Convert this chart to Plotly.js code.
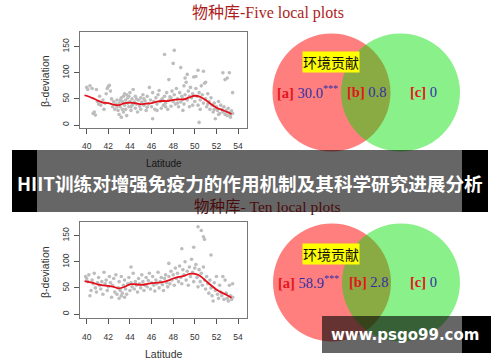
<!DOCTYPE html>
<html>
<head>
<meta charset="utf-8">
<script src="https://cdn.plot.ly/plotly-3.0.1.min.js"></script>
<style>html,body{margin:0;padding:0;background:#fff;}#chart{width:500px;height:362px;}</style>
</head>
<body>
<div id="chart"></div>
<script>
// ---------- data ----------
const latTicks = [40, 42, 44, 46, 48, 50, 52, 54];
const devTicks = [0, 50, 100, 150];

// Five local plots: scatter points (latitude, beta-deviation)
const fiveLat = [40.0,40.1,40.3,40.5,40.6,40.7,40.8,40.9,41.0,41.1,41.2,41.3,41.5,41.6,41.7,41.8,41.9,42.0,42.1,42.2,42.3,42.4,42.5,42.6,42.7,42.8,42.9,43.0,43.0,43.1,43.2,43.2,43.3,43.4,43.4,43.5,43.5,43.6,43.6,43.7,43.7,43.8,43.8,43.9,44.0,44.0,44.1,44.2,44.2,44.3,44.4,44.5,44.5,44.6,44.7,44.8,44.9,45.0,45.0,45.1,45.2,45.3,45.4,45.5,45.6,45.7,45.8,45.9,46.0,46.1,46.1,46.2,46.3,46.4,46.5,46.6,46.7,46.8,46.9,47.0,47.1,47.2,47.2,47.3,47.4,47.5,47.6,47.6,47.7,47.8,47.9,48.0,48.0,48.1,48.1,48.2,48.3,48.4,48.5,48.6,48.7,48.7,48.8,48.9,49.0,49.0,49.1,49.1,49.2,49.3,49.3,49.4,49.5,49.6,49.7,49.8,49.9,50.0,50.1,50.1,50.2,50.3,50.3,50.4,50.4,50.5,50.6,50.7,50.8,50.8,50.9,51.0,51.0,51.1,51.2,51.3,51.4,51.5,51.6,51.7,51.8,51.9,52.0,52.1,52.2,52.3,52.4,52.5,52.6,52.6,52.7,52.8,52.8,52.9,53.0,53.0,53.1,53.2,53.2,53.3,53.4,53.5,53.5,43.1,43.9,44.1,44.6,42.8,43.3,44.3,45.3,45.6,46.5,46.9,47.3,47.8,48.4,48.9,49.5,49.8,50.5,51.2,51.8,52.2,52.9,53.3];
const fiveDev = [72,68,75,70,22,25,19,68,45,40,55,38,48,30,42,60,70,74,76,65,50,35,45,30,40,48,28,20,42,35,52,15,45,25,55,38,60,48,30,58,18,42,52,35,45,62,28,50,38,68,44,32,55,40,25,48,36,52,30,44,58,38,46,28,55,40,72,48,35,12,62,45,30,52,40,58,66,45,32,50,38,135,55,42,62,30,87,48,54,36,65,118,45,143,58,40,70,50,35,62,110,44,55,28,75,40,90,58,82,97,48,65,35,72,52,60,92,45,93,70,55,105,38,5,62,48,75,58,103,42,80,82,50,35,60,45,30,52,38,25,42,12,35,28,45,22,38,30,100,25,35,87,20,28,90,18,32,100,24,20,27,62,22,48,55,35,50,35,30,40,50,34,28,48,35,52,42,50,55,38,30,40,30,20,25,15];
// Five local plots: smoothed trend
const fiveTrendLat = [39.8,40.5,41.0,41.5,42.0,42.5,43.0,43.5,44.0,44.5,45.0,45.5,46.0,46.5,47.0,47.5,48.0,48.5,49.0,49.5,50.0,50.5,51.0,51.5,52.0,52.5,53.0,53.4];
const fiveTrendDev = [57,52,47,43,42,39,38,42,43,42,40,41,42,45,46,46,48,49,49,53,56,54,48,40,33,29,25,21];

// Ten local plots: scatter points
const tenLat = [39.9,40.0,40.1,40.2,40.3,40.4,40.5,40.6,40.7,40.8,40.9,41.0,41.1,41.2,41.3,41.4,41.5,41.6,41.7,41.8,41.9,42.0,42.1,42.2,42.3,42.4,42.5,42.6,42.7,42.8,42.9,43.0,43.0,43.1,43.2,43.2,43.3,43.4,43.5,43.5,43.6,43.7,43.8,43.9,44.0,44.1,44.1,44.2,44.3,44.4,44.5,44.6,44.7,44.8,44.9,45.0,45.1,45.2,45.3,45.4,45.5,45.6,45.7,45.8,45.9,46.0,46.1,46.2,46.3,46.4,46.5,46.6,46.7,46.8,46.9,47.0,47.1,47.2,47.3,47.4,47.5,47.6,47.6,47.7,47.8,47.9,48.0,48.1,48.2,48.3,48.4,48.5,48.6,48.7,48.8,48.8,48.9,49.0,49.1,49.2,49.3,49.4,49.5,49.6,49.7,49.8,49.9,49.9,50.0,50.1,50.2,50.3,50.3,50.4,50.5,50.6,50.6,50.7,50.8,50.8,50.9,50.9,51.0,51.1,51.2,51.3,51.4,51.5,51.5,51.6,51.7,51.8,51.9,52.0,52.1,52.2,52.3,52.4,52.5,52.6,52.7,52.8,52.9,53.0,53.1,53.2,53.3,53.4,53.5,53.5];
const tenDev = [72,68,62,75,35,45,65,58,78,50,42,60,70,55,48,62,38,80,58,65,45,52,72,60,32,55,68,42,75,38,50,30,62,45,35,72,40,55,32,65,48,38,58,70,45,90,60,52,78,48,62,55,42,68,58,50,75,62,45,55,70,52,64,78,48,60,72,55,44,65,58,80,50,62,70,56,45,68,75,60,52,97,72,58,82,65,75,55,88,68,78,62,92,70,125,58,85,75,100,65,82,55,90,72,105,80,128,62,88,95,70,167,52,85,62,160,78,55,148,90,143,65,48,72,58,40,65,113,50,35,25,60,45,72,38,30,55,42,35,72,28,65,40,30,25,55,35,28,58,32];
// Ten local plots: smoothed trend
const tenTrendLat = [39.8,40.5,41.0,41.5,42.0,42.5,43.0,43.5,44.0,44.5,45.0,45.5,46.0,46.5,47.0,47.5,48.0,48.5,49.0,49.5,50.0,50.5,51.0,51.5,52.0,52.5,53.0,53.4];
const tenTrendDev = [63,60,57,55,54,52,49,52,57,57,56,57,59,60,61,64,68,71,73,77,77,73,64,55,47,41,36,31];

// Texts
const titleFive = '物种库-Five local plots';
const titleTen = '物种库- Ten local plots';
const xLabel = 'Latitude';
const yLabel = 'β-deviation';
const envLabel = '环境贡献';
const vennKeys = ['[a]', '[b]', '[c]'];
const vennFive = ['30.0***', '0.8', '0'];
const vennTen = ['58.9***', '2.8', '0'];
const bannerText = 'HIIT训练对增强免疫力的作用机制及其科学研究进展分析';
const watermarkText = 'www.psgo99.com';

// ---------- helpers ----------
const W = 500, H = 362;
const px = x => x / W;
const py = y => 1 - y / H;
const sans = 'Liberation Sans, Arial, sans-serif';
const serif = 'Liberation Serif, Times New Roman, serif';
const cjk = 'Noto Sans CJK SC, sans-serif';

function vennText(key, val) {
  let v = val.replace('***', '<sup>***</sup>');
  return '<span style="color:#e3141c"><b>' + key + '</b></span> <span style="color:#2f2fa6">' + v + '</span>';
}

const ptStyle = {size: 3.6, color: '#bdbdbd'};
const lineStyle = {color: '#e3101a', width: 1.8, shape: 'spline', smoothing: 0.8};

const traces = [
  {x: fiveLat, y: fiveDev, type: 'scatter', mode: 'markers', marker: ptStyle, xaxis: 'x', yaxis: 'y', hoverinfo: 'skip'},
  {x: fiveTrendLat, y: fiveTrendDev, type: 'scatter', mode: 'lines', line: lineStyle, xaxis: 'x', yaxis: 'y'},
  {x: tenLat, y: tenDev, type: 'scatter', mode: 'markers', marker: ptStyle, xaxis: 'x2', yaxis: 'y2', hoverinfo: 'skip'},
  {x: tenTrendLat, y: tenTrendDev, type: 'scatter', mode: 'lines', line: lineStyle, xaxis: 'x2', yaxis: 'y2'}
];

function xax(anchor, dom) {
  return {domain: dom, anchor: anchor, range: [39.38, 54.83], tickmode: 'array', tickvals: latTicks,
    ticks: 'outside', ticklen: 5, tickcolor: '#555', showline: true, mirror: true, linecolor: '#777', linewidth: 1,
    showgrid: false, zeroline: false, tickfont: {family: sans, size: 8.5, color: '#333'}, ticklabelstandoff: 5, fixedrange: true};
}
function yax(anchor, dom, rng) {
  return {domain: dom, anchor: anchor, range: rng, tickmode: 'array', tickvals: devTicks, tickangle: -90,
    ticks: 'outside', ticklen: 5, tickcolor: '#555', showline: true, mirror: true, linecolor: '#777', linewidth: 1,
    showgrid: false, zeroline: false, tickfont: {family: sans, size: 8.5, color: '#333'}, ticklabelstandoff: 2, fixedrange: true};
}

function circle(x0, y0, x1, y1, color) {
  return {type: 'circle', xref: 'paper', yref: 'paper', x0: px(x0), x1: px(x1), y0: py(y1), y1: py(y0),
    fillcolor: color, line: {width: 0}, layer: 'above'};
}
function rect(x0, y0, x1, y1, color) {
  return {type: 'rect', xref: 'paper', yref: 'paper', x0: px(x0), x1: px(x1), y0: py(y1), y1: py(y0),
    fillcolor: color, line: {width: 0}, layer: 'above'};
}
const RED = 'rgba(255,0,0,0.5)', GREEN = 'rgba(0,222,0,0.46)';

const shapes = [
  circle(272.5, 33.5, 390.5, 151.5, RED),
  circle(341, 33.5, 460, 151.5, GREEN),
  circle(273, 223.5, 391, 341.5, RED),
  circle(342, 223.5, 460, 341.5, GREEN),
  // banner
  rect(37, 150, 462, 212, 'rgba(0,0,0,0.6)'),
  rect(12, 150, 37, 212, '#000'),
  rect(462, 150, 488, 212, '#000'),
  // watermark
  rect(322, 316, 462, 353, 'rgba(0,0,0,0.6)'),
  rect(462, 316, 491, 353, '#000')
];

function ann(text, x, y, font, extra) {
  return Object.assign({text: text, xref: 'paper', yref: 'paper', x: px(x), y: py(y), xanchor: 'center', yanchor: 'middle',
    showarrow: false, font: font}, extra || {});
}

const annotations = [
  ann(titleFive, 268, 13, {family: serif + ', ' + cjk, size: 16, color: '#ad1d1d'}),
  ann(titleTen, 267, 206.5, {family: serif + ', ' + cjk, size: 15.5, color: '#4a0c0c'}),
  ann(yLabel, 45, 81, {family: sans, size: 10.5, color: '#333'}, {textangle: -90}),
  ann(yLabel, 45, 272, {family: sans, size: 10.5, color: '#333'}, {textangle: -90}),
  ann(xLabel, 163.5, 164, {family: sans, size: 10, color: '#151515'}),
  ann(xLabel, 163.5, 354, {family: sans, size: 10.5, color: '#333'}),
  ann(envLabel, 330.5, 62, {family: cjk, size: 14, color: '#111'}, {bgcolor: '#ffff00', borderpad: 0}),
  ann(envLabel, 330.5, 254, {family: cjk, size: 14, color: '#111'}, {bgcolor: '#ffff00', borderpad: 0}),
  ann(vennText(vennKeys[0], vennFive[0]), 307, 92, {family: serif, size: 14.5}),
  ann(vennText(vennKeys[1], vennFive[1]), 366, 92, {family: serif, size: 14.5}),
  ann(vennText(vennKeys[2], vennFive[2]), 423, 92, {family: serif, size: 14.5}),
  ann(vennText(vennKeys[0], vennTen[0]), 308, 282, {family: serif, size: 14.5}),
  ann(vennText(vennKeys[1], vennTen[1]), 368, 282, {family: serif, size: 14.5}),
  ann(vennText(vennKeys[2], vennTen[2]), 423, 282, {family: serif, size: 14.5}),
  ann('<b>' + bannerText + '</b>', 250, 182.5, {family: cjk, size: 18.6, color: '#ffffff'}),
  ann('<b>' + watermarkText + '</b>', 405, 335, {family: 'DejaVu Sans, sans-serif', size: 15, color: '#ffffff'})
];

const layout = {
  width: W, height: H, margin: {l: 0, r: 0, t: 0, b: 0},
  paper_bgcolor: '#ffffff', plot_bgcolor: '#ffffff', showlegend: false,
  xaxis: xax('y', [0.16, 0.494]),
  yaxis: yax('x', [py(128), py(32)], [-5.75, 178.2]),
  xaxis2: xax('y2', [0.16, 0.494]),
  yaxis2: yax('x2', [py(318.3), py(222.3)], [-8.2, 175.7]),
  shapes: shapes,
  annotations: annotations
};

Plotly.newPlot('chart', traces, layout, {displayModeBar: false, staticPlot: true});
</script>
</body>
</html>
